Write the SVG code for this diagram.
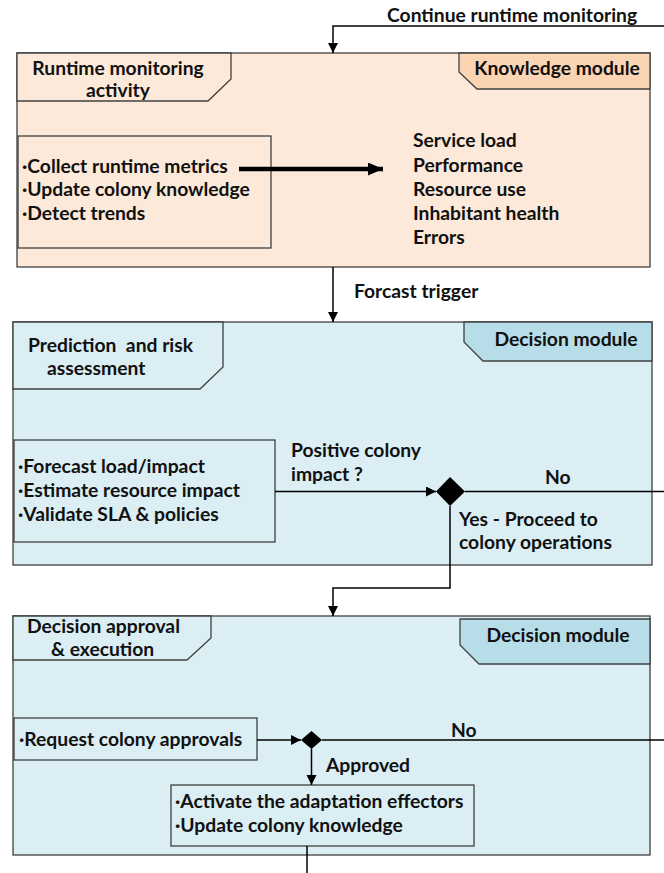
<svg xmlns="http://www.w3.org/2000/svg" width="664" height="873" viewBox="0 0 664 873">
  <style>
    text { font-family: Lato, "Liberation Sans", sans-serif; font-weight: 700; font-size: 19.3px; fill: #111; }
    .mid { text-anchor: middle; }
    .peach { fill: #fde9d9; stroke: #404040; stroke-width: 1.3; }
    .peachTab { fill: #fbd4b4; stroke: #404040; stroke-width: 1.3; }
    .blue { fill: #daeef3; stroke: #404040; stroke-width: 1.3; }
    .blueTab { fill: #b7dde8; stroke: #404040; stroke-width: 1.3; }
    .inner { fill: none; stroke: #404040; stroke-width: 1.3; }
    .wire { fill: none; stroke: #000; stroke-width: 1.5; }
    .thick { fill: none; stroke: #000; stroke-width: 4.5; }
  </style>
  <defs>
    <marker id="arrow" markerUnits="userSpaceOnUse" markerWidth="12" markerHeight="12" refX="10" refY="5" orient="auto">
      <path d="M0,0 L10,5 L0,10 Z" fill="#000"/>
    </marker>
    <marker id="arrowBig" markerUnits="userSpaceOnUse" markerWidth="18" markerHeight="16" refX="15" refY="6.5" orient="auto">
      <path d="M0,0 L15,6.5 L0,13 Z" fill="#000"/>
    </marker>
  </defs>

  <!-- Runtime monitoring activity (knowledge module) -->
  <g id="monitoring">
    <rect class="peach" x="17" y="53" width="633" height="214"/>
    <path class="peach" d="M17,53 H231 V79 L208,101 H17 Z"/>
    <text class="mid" x="118" y="75">Runtime monitoring</text>
    <text class="mid" x="118" y="97">activity</text>
    <path class="peachTab" d="M459,53 H650 V89 H477 L459,72 Z"/>
    <text class="mid" x="557" y="75">Knowledge module</text>
  </g>
  <g id="monitoring-tasks">
    <rect class="inner" x="18" y="136" width="253" height="112"/>
    <text x="22" y="173">·Collect runtime metrics</text>
    <text x="22" y="196">·Update colony knowledge</text>
    <text x="22" y="220">·Detect trends</text>
  </g>
  <g id="metrics">
    <text x="413" y="147">Service load</text>
    <text x="413" y="172">Performance</text>
    <text x="413" y="196">Resource use</text>
    <text x="413" y="220">Inhabitant health</text>
    <text x="413" y="244">Errors</text>
  </g>

  <!-- Prediction and risk assessment (decision module) -->
  <g id="prediction">
    <rect class="blue" x="13" y="322" width="639" height="243"/>
    <path class="blue" d="M13,322 H223 V367 L200,389 H13 Z"/>
    <text x="28" y="352" xml:space="preserve">Prediction  and risk</text>
    <text x="47" y="375">assessment</text>
    <path class="blueTab" d="M464,322 H652 V361 H483 L464,342 Z"/>
    <text class="mid" x="566" y="346">Decision module</text>
  </g>
  <g id="prediction-tasks">
    <rect class="inner" x="14" y="440" width="261" height="102"/>
    <text x="18" y="473">·Forecast load/impact</text>
    <text x="18" y="497">·Estimate resource impact</text>
    <text x="18" y="521">·Validate SLA &amp; policies</text>
  </g>
  <g id="impact-check">
    <polygon points="436,491.5 450,477 465,491.5 450,506" fill="#000"/>
  </g>

  <!-- Decision approval and execution (decision module) -->
  <g id="approval">
    <rect class="blue" x="13" y="616" width="637" height="239"/>
    <path class="blue" d="M13,616 H211 V638 L187,660 H13 Z"/>
    <text x="27" y="633">Decision approval</text>
    <text x="51" y="656">&amp; execution</text>
    <path class="blueTab" d="M460,619 H650 V664 H479 L460,645 Z"/>
    <text class="mid" x="558" y="642">Decision module</text>
  </g>
  <g id="request">
    <rect class="inner" x="14" y="718" width="243" height="42"/>
    <text x="19" y="746">·Request colony approvals</text>
  </g>
  <g id="approval-check">
    <polygon points="301,740 311.5,731 322,740 311.5,749" fill="#000"/>
  </g>
  <g id="effectors">
    <rect class="inner" x="171" y="785" width="303" height="61"/>
    <text x="175" y="808">·Activate the adaptation effectors</text>
    <text x="175" y="832">·Update colony knowledge</text>
  </g>

  <!-- Connectors -->
  <g id="connectors">
    <polyline class="wire" points="664,26 333,26 333,53" marker-end="url(#arrow)"/>
    <line class="thick" x1="239" y1="169" x2="383" y2="169" marker-end="url(#arrowBig)"/>
    <line class="wire" x1="333" y1="267" x2="333" y2="322" marker-end="url(#arrow)"/>
    <line class="wire" x1="275" y1="491.5" x2="436" y2="491.5" marker-end="url(#arrow)"/>
    <line class="wire" x1="465" y1="491.5" x2="664" y2="491.5"/>
    <polyline class="wire" points="450,506 450,588 333,588 333,616" marker-end="url(#arrow)"/>
    <line class="wire" x1="257" y1="740" x2="301" y2="740" marker-end="url(#arrow)"/>
    <line class="wire" x1="322" y1="740" x2="664" y2="740"/>
    <line class="wire" x1="311.5" y1="749" x2="311.5" y2="785" marker-end="url(#arrow)"/>
    <line class="wire" x1="307" y1="846" x2="307" y2="873"/>
  </g>
  <g id="connector-labels">
    <text x="387" y="22">Continue runtime monitoring</text>
    <text x="354" y="298">Forcast trigger</text>
    <text x="291" y="457">Positive colony</text>
    <text x="291" y="481">impact ?</text>
    <text x="545" y="484">No</text>
    <text x="459" y="526">Yes - Proceed to</text>
    <text x="459" y="549">colony operations</text>
    <text x="451" y="737">No</text>
    <text x="326" y="772">Approved</text>
  </g>
</svg>
